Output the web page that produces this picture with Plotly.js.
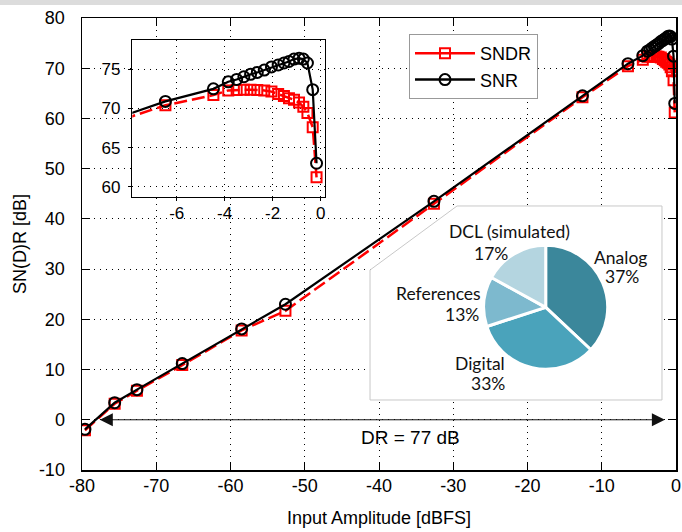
<!DOCTYPE html>
<html><head><meta charset="utf-8">
<script src="https://cdn.plot.ly/plotly-3.0.1.min.js"></script>
<style>html,body{margin:0;padding:0;background:#fff}#chart{width:682px;height:532px}</style>
</head><body><div id="chart"></div>
<script>
// ---- data ----
const inputAmplitude = [-79.6, -75.6, -72.6, -66.5, -58.5, -52.6, -32.6, -12.6,
  -6.47, -4.47, -3.85, -3.5, -3.2, -2.92, -2.64, -2.35, -2.05, -1.77, -1.53, -1.32, -1.11, -0.9, -0.72, -0.55, -0.33, -0.17];
const snr = [-1.9, 3.4, 6.0, 11.2, 18.1, 23.0, 43.5, 64.5,
  70.9, 72.5, 73.4, 73.7, 74.05, 74.35, 74.6, 74.9, 75.3, 75.55, 75.8, 76.0, 76.3, 76.4, 76.3, 75.8, 72.4, 63.0];
const sndr = [-2.1, 3.2, 5.8, 10.9, 17.8, 21.7, 43.0, 64.2,
  70.4, 71.7, 72.3, 72.35, 72.4, 72.4, 72.35, 72.3, 72.15, 71.85, 71.6, 71.3, 71.1, 70.75, 70.2, 69.4, 67.6, 61.2];
const seriesNames = ['SNDR', 'SNR'];
const pieLabels = ['Analog', 'Digital', 'References', 'DCL (simulated)'];
const pieShares = [37, 33, 13, 17];
const mainXTicks = [-80, -70, -60, -50, -40, -30, -20, -10, 0];
const mainXTickText = ['-80', '-70', '-60', '-50', '-40', '-30', '-20', '-10', '0'];
const mainYTicks = [-10, 0, 10, 20, 30, 40, 50, 60, 70, 80];
const mainYTickText = ['-10', '0', '10', '20', '30', '40', '50', '60', '70', '80'];
const insetXTicks = [-6, -4, -2, 0];
const insetXTickText = ['-6', '-4', '-2', '0'];
const insetYTicks = [60, 65, 70, 75];
const insetYTickText = ['60', '65', '70', '75'];
const drText = 'DR = 77 dB';
const xTitle = 'Input Amplitude [dBFS]';
const yTitle = 'SN(D)R [dB]';

// ---- styles ----
const RED = '#ff0000', BLACK = '#000000';
const pieColors = ['#3b879b', '#4aa3bb', '#7db9ce', '#b4d5e0'];
const FONT = 'Liberation Sans, Arial, sans-serif';
const PIEFONT = 'Lato, Noto Sans, sans-serif';

const sndrMarker = {symbol: 'square-open', size: 10, color: RED, line: {color: RED, width: 2}};
const snrMarker = {symbol: 'circle-open', size: 11, color: BLACK, line: {color: BLACK, width: 2}};

function sndrTrace(xa, ya) {
  return {x: inputAmplitude, y: sndr, name: seriesNames[0], xaxis: xa, yaxis: ya, showlegend: false,
    mode: 'lines+markers', line: {color: RED, width: 2.5, dash: '13px,5px'},
    marker: sndrMarker, hoverinfo: 'skip'};
}
function snrTrace(xa, ya) {
  return {x: inputAmplitude, y: snr, name: seriesNames[1], xaxis: xa, yaxis: ya, showlegend: false,
    mode: 'lines+markers', line: {color: BLACK, width: 2.2},
    marker: snrMarker, hoverinfo: 'skip'};
}
// legend-only entries (solid sample lines, as in the reference legend)
function legendEntry(name, color, marker) {
  return {x: [null], y: [null], name: name, mode: 'lines+markers', showlegend: true,
    line: {color: color, width: 2.5}, marker: marker, hoverinfo: 'skip'};
}

const traces = [
  sndrTrace('x', 'y'),
  snrTrace('x', 'y'),
  sndrTrace('x2', 'y2'),
  snrTrace('x2', 'y2'),
  legendEntry(seriesNames[0], RED, sndrMarker),
  legendEntry(seriesNames[1], BLACK, snrMarker),
  {type: 'pie', labels: pieLabels, values: pieShares, sort: false, direction: 'clockwise', rotation: 0,
   textinfo: 'none', hoverinfo: 'none', showlegend: false,
   marker: {colors: pieColors, line: {color: '#ffffff', width: 3}},
   domain: {x: [0.6763, 0.8850], y: [0.2228, 0.4970]}}
];

const gridStyle = {showgrid: true, gridcolor: '#000', gridwidth: 1, griddash: '1px,5px', zeroline: false,
  showline: true, linecolor: '#000', linewidth: 1.5, tickcolor: '#000', tickmode: 'array'};

const pieText = [
  {t: pieLabels[3], x: 0.7195, y: 0.5277},
  {t: pieShares[3] + '%', x: 0.6886, y: 0.4794},
  {t: pieLabels[0], x: 0.9069, y: 0.4706},
  {t: pieShares[0] + '%', x: 0.9091, y: 0.4292},
  {t: pieLabels[2], x: 0.5997, y: 0.3909},
  {t: pieShares[2] + '%', x: 0.6394, y: 0.3451},
  {t: pieLabels[1], x: 0.6695, y: 0.2361},
  {t: pieShares[1] + '%', x: 0.6835, y: 0.1918}
].map(a => ({text: a.t, x: a.x, y: a.y, xref: 'paper', yref: 'paper', showarrow: false,
  xanchor: 'center', yanchor: 'middle', font: {family: PIEFONT, size: 17.5, color: '#111'}}));

const layout = {
  width: 682, height: 532,
  margin: {l: 82, r: 6, t: 18, b: 62},
  paper_bgcolor: '#fff', plot_bgcolor: '#fff',
  font: {family: FONT, size: 18, color: '#000'},
  showlegend: true,
  legend: {x: 0.5505, y: 0.9646, xanchor: 'left', yanchor: 'top', bgcolor: '#fff',
    bordercolor: '#999', borderwidth: 1, font: {family: FONT, size: 18}, itemwidth: 60,
    entrywidth: 138, entrywidthmode: 'pixels', traceorder: 'normal'},
  xaxis: Object.assign({}, gridStyle, {range: [-80, 0], tickvals: mainXTicks, ticktext: mainXTickText,
    ticks: 'inside', ticklen: 8, mirror: 'ticks', tickfont: {size: 18}, ticklabelstandoff: -1,
    title: {text: xTitle, font: {size: 18}, standoff: 16}}),
  yaxis: Object.assign({}, gridStyle, {range: [-10, 80], tickvals: mainYTicks, ticktext: mainYTickText,
    ticks: 'inside', ticklen: 8, mirror: 'ticks', tickfont: {size: 18}, ticklabelstandoff: 12,
    title: {text: yTitle, font: {size: 18}, standoff: 7}}),
  xaxis2: Object.assign({}, gridStyle, {domain: [0.0847, 0.409], anchor: 'y2', range: [-7.85, 0.18],
    tickvals: insetXTicks, ticktext: insetXTickText, ticks: 'outside', ticklen: 3, mirror: true,
    tickfont: {size: 17}, ticklabelstandoff: -3}),
  yaxis2: Object.assign({}, gridStyle, {domain: [0.6046, 0.9513], anchor: 'x2', range: [58.72, 78.74],
    tickvals: insetYTicks, ticktext: insetYTickText, ticks: 'outside', ticklen: 3, mirror: true,
    tickfont: {size: 17}, ticklabelstandoff: 4}),
  shapes: [
    {type: 'path', xref: 'x', yref: 'y', layer: 'between',
     path: 'M-41.21,29.82 L-29.49,42.57 L-1.89,42.57 L-1.89,3.94 L-41.21,3.94 Z',
     fillcolor: '#ffffff', line: {color: '#c8c8c8', width: 1}},
    {type: 'rect', xref: 'paper', yref: 'paper', layer: 'above', x0: -0.14, x1: 1.02, y0: 1.0288, y1: 1.045,
     fillcolor: '#dcdcdc', line: {width: 0}}
  ],
  annotations: [
    {xref: 'x', yref: 'y', axref: 'x', ayref: 'y', x: -1.5, y: 0, ax: -77.8, ay: 0, text: '',
     showarrow: true, arrowside: 'end+start', arrowhead: 2, startarrowhead: 2, arrowsize: 2.6, startarrowsize: 2.6,
     arrowwidth: 1, arrowcolor: '#111'},
    {xref: 'x', yref: 'y', x: -35.8, y: -3.5, text: drText, showarrow: false,
     xanchor: 'center', yanchor: 'middle', font: {family: FONT, size: 19, color: '#000'}}
  ].concat(pieText)
};

Plotly.newPlot('chart', traces, layout, {staticPlot: true, displayModeBar: false});
</script>
</body></html>
